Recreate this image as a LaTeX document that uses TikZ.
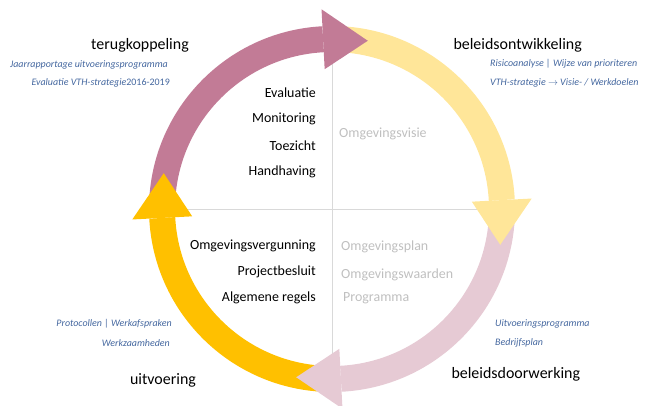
\documentclass[tikz,border=0pt]{standalone}
\usepackage{fontspec}
\setmainfont{Carlito}
\usetikzlibrary{calc}
\definecolor{paars}{HTML}{C27B96}
\definecolor{geel}{HTML}{FFE699}
\definecolor{roze}{HTML}{E6CAD4}
\definecolor{goud}{HTML}{FFC000}
\definecolor{blauw}{HTML}{44679F}
\definecolor{grijs}{HTML}{BFBFBF}
\begin{document}
\begin{tikzpicture}[x=1bp, y=1bp,
    fase/.style={font=\fontsize{16}{18}\selectfont},
    toel/.style={font=\fontsize{10}{12}\selectfont\itshape, text=blauw, inner sep=0pt},
    instr/.style={font=\fontsize{14}{16}\selectfont, anchor=east, inner sep=0pt},
    visie/.style={font=\fontsize{14}{16}\selectfont, anchor=west, text=grijs, inner sep=0pt}]
    \useasboundingbox (0,0) rectangle (649,405);

    % Middelpunt
    \coordinate (M) at (332,196);

    % Assen (lichtgrijs)
    \draw[gray!30, thin] ($(M)+(-170,0)$) -- ($(M)+(170,0)$);
    \draw[gray!30, thin] ($(M)+(0,-170)$) -- ($(M)+(0,170)$);

    % Banden van de cirkel
    \foreach \a/\kleur in {90/paars, 0/geel, 270/roze, 180/goud}
        \draw[\kleur, line width=26bp] ($(M)+(\a+92:170)$) arc[start angle=\a+92, end angle=\a+3, radius=170];

    % Pijlpunten
    \foreach \a/\kleur in {90/paars, 0/geel, 270/roze, 180/goud}
        \fill[\kleur] ($(M)+(\a+3:140)$) -- ($(M)+(\a+3:200)$) -- ($(M)+(\a-12:172)$) -- cycle;

    % Fasen
    \node[fase] (terug) at (140,360) {terugkoppeling};
    \node[fase, anchor=west] (ontw) at (450,360) {beleidsontwikkeling};
    \node[fase] (uitv) at (163,25) {uitvoering};
    \node[fase, anchor=west] (doorw) at (448,31) {beleidsdoorwerking};

    % Toelichting
    \node[toel, anchor=east] (jaar) at (168,340) {Jaarrapportage uitvoeringsprogramma};
    \node[toel, anchor=east] (eval) at (170,322) {Evaluatie VTH-strategie\upshape 2016-2019};
    \node[toel, anchor=west] (risico) at (490,341) {Risicoanalyse | Wijze van prioriteren};
    \node[toel, anchor=west] (vth) at (490,322) {VTH-strategie $\rightarrow$ Visie- / Werkdoelen};
    \node[toel, anchor=east] (prot) at (172,81) {Protocollen | Werkafspraken};
    \node[toel, anchor=east] (werkz) at (170,62) {Werkzaamheden};
    \node[toel, anchor=west] (uprog) at (495,81) {Uitvoeringsprogramma};
    \node[toel, anchor=west] (bedr) at (495,62) {Bedrijfsplan};

    % Instrumenten
    \foreach \tekst [count=\i] in {Evaluatie, Monitoring, Toezicht, Handhaving}
        \node[instr] (boven\i) at (316,338.3-26.3*\i) {\tekst};
    \foreach \tekst [count=\i] in {Omgevingsvergunning, Projectbesluit, Algemene regels}
        \node[instr] (onder\i) at (316,185-26*\i) {\tekst};

    % Kerninstrumenten (grijs)
    \node[visie] (ovisie) at (339,271) {Omgevingsvisie};
    \node[visie] (oplan) at (341,158) {Omgevingsplan};
    \node[visie] (owaard) at (341,130) {Omgevingswaarden};
    \node[visie] (prog) at (343,107) {Programma};
\end{tikzpicture}
\end{document}
